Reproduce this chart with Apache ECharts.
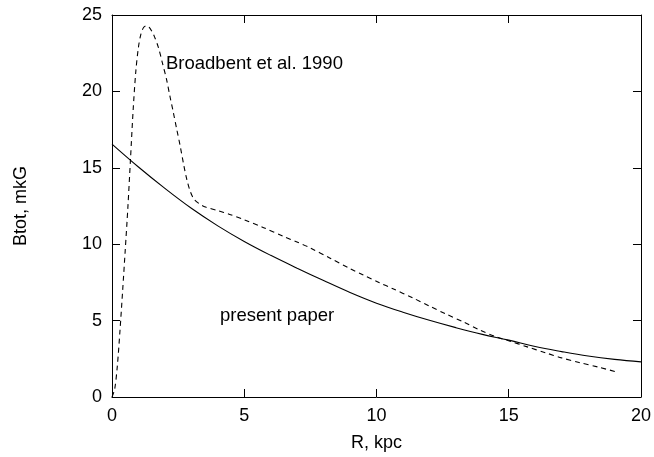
<!DOCTYPE html>
<html>
<head>
<meta charset="utf-8">
<script src="https://cdn.jsdelivr.net/npm/echarts@6/dist/echarts.min.js"></script>
<style>
html,body{margin:0;padding:0;background:#fff;}
#chart{width:654px;height:457px;}
</style>
</head>
<body>
<div id="chart"></div>
<script>
// Data
var xTicks = [0, 5, 10, 15, 20];
var yTicks = [0, 5, 10, 15, 20, 25];
var presentR = [0, 1, 2, 3, 4, 5, 6, 7, 8, 9, 10, 11, 12, 13, 14, 15, 16, 17, 18, 19, 20];
var presentB = [16.55, 15.05, 13.65, 12.35, 11.2, 10.18, 9.27, 8.43, 7.62, 6.84, 6.14, 5.55, 5.02, 4.54, 4.1, 3.72, 3.3, 2.97, 2.68, 2.46, 2.3];
var broadR = [0, 0.1, 0.2, 0.3, 0.4, 0.5, 0.6, 0.7, 0.8, 0.9, 1.0, 1.1, 1.2, 1.3, 1.4, 1.5, 1.6, 1.75, 1.9, 2.06, 2.2, 2.31, 2.45, 2.57, 2.7, 2.82, 2.95, 3.1, 3.3, 3.5, 4.0, 4.45, 5.0, 5.71, 6.5, 6.97, 7.5, 8.23, 9.0, 9.48, 10.11, 10.6, 11.37, 12.0, 12.63, 13.3, 13.89, 14.5, 15.02, 15.7, 16.4, 17.0, 17.66, 18.4, 19.1];
var broadB = [0, 0.5, 2.0, 4.3, 6.9, 9.6, 12.4, 15.6, 18.8, 21.3, 22.9, 23.8, 24.2, 24.3, 24.2, 23.95, 23.6, 22.9, 21.9, 20.8, 19.6, 18.7, 17.5, 16.5, 15.3, 14.3, 13.5, 12.95, 12.65, 12.45, 12.2, 11.95, 11.6, 11.1, 10.5, 10.16, 9.75, 9.1, 8.4, 8.0, 7.48, 7.1, 6.49, 5.95, 5.43, 4.9, 4.4, 3.95, 3.67, 3.28, 2.89, 2.56, 2.26, 1.95, 1.63];
var labelBroad = 'Broadbent et al. 1990';
var labelPresent = 'present paper';
var xName = 'R, kpc';
var yName = 'Btot, mkG';

function pairs(a, b) { return a.map(function (v, i) { return [v, b[i]]; }); }

var FONT = 'Liberation Sans, Arial, Helvetica, sans-serif';
var FS = 18;
var chart = echarts.init(document.getElementById('chart'), null, {renderer: 'canvas'});

var axisCommon = {
  type: 'value',
  splitLine: {show: false},
  axisLine: {show: true, onZero: false, lineStyle: {color: '#000', width: 1}},
  axisTick: {show: true, inside: true, length: 8, lineStyle: {color: '#000', width: 1}}
};

var option = {
  backgroundColor: '#fff',
  animation: false,
  grid: {left: 112, right: 12, top: 15, bottom: 46, containLabel: false},
  xAxis: [
    Object.assign({}, axisCommon, {
      position: 'bottom', min: xTicks[0], max: xTicks[xTicks.length - 1], interval: 5,
      axisLabel: {show: true, color: '#000', fontSize: FS, fontFamily: FONT, margin: 10},
      name: xName, nameLocation: 'middle', nameGap: 37,
      nameTextStyle: {color: '#000', fontSize: FS, fontFamily: FONT}
    }),
    Object.assign({}, axisCommon, {
      position: 'top', min: xTicks[0], max: xTicks[xTicks.length - 1], interval: 5,
      axisLabel: {show: false}
    })
  ],
  yAxis: [
    Object.assign({}, axisCommon, {
      position: 'left', min: yTicks[0], max: yTicks[yTicks.length - 1], interval: 5,
      axisLabel: {show: true, color: '#000', fontSize: FS, fontFamily: FONT, margin: 10},
      name: yName, nameLocation: 'middle', nameGap: 82, nameRotate: 90,
      nameTextStyle: {color: '#000', fontSize: FS, fontFamily: FONT}
    }),
    Object.assign({}, axisCommon, {
      position: 'right', min: yTicks[0], max: yTicks[yTicks.length - 1], interval: 5,
      axisLabel: {show: false}
    })
  ],
  series: [
    {
      name: labelPresent, type: 'line', xAxisIndex: 0, yAxisIndex: 0,
      data: pairs(presentR, presentB), showSymbol: false, smooth: 0.4,
      lineStyle: {color: '#000', width: 1.1, type: 'solid'}
    },
    {
      name: labelBroad, type: 'line', xAxisIndex: 0, yAxisIndex: 0,
      data: pairs(broadR, broadB), showSymbol: false, smooth: 0.3,
      lineStyle: {color: '#000', width: 1.1, type: [5, 4]}
    }
  ],
  graphic: [
    {type: 'text', left: 166, top: 54, style: {text: labelBroad, fill: '#000', font: '18.5px ' + FONT}},
    {type: 'text', left: 220, top: 306, style: {text: labelPresent, fill: '#000', font: '18.5px ' + FONT}}
  ]
};
chart.setOption(option);
</script>
</body>
</html>
